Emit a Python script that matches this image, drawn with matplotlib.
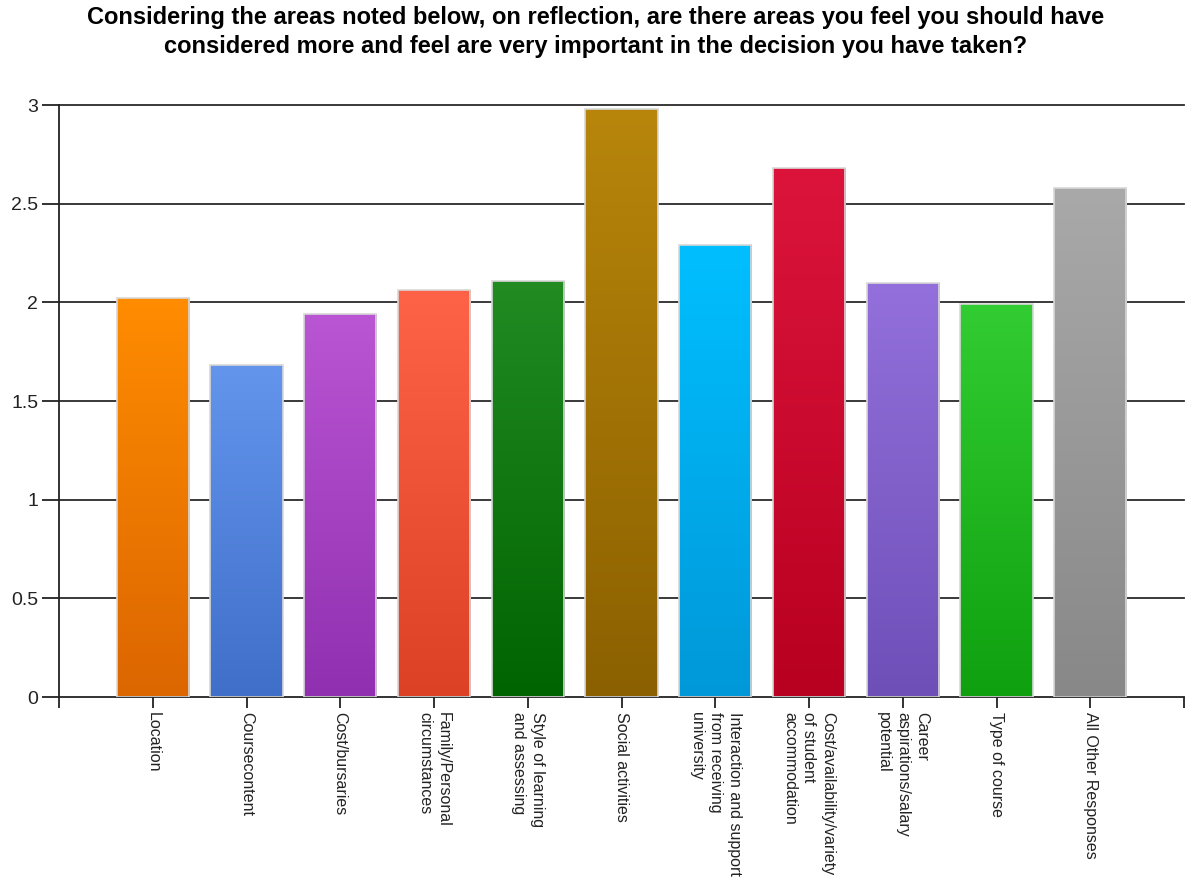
import matplotlib
matplotlib.use("Agg")
import matplotlib.pyplot as plt
import numpy as np
from matplotlib.colors import LinearSegmentedColormap

plt.rcParams['font.family'] = ['Liberation Sans', 'DejaVu Sans']

categories = [
    "Location",
    "Coursecontent",
    "Cost/bursaries",
    "Family/Personal\ncircumstances",
    "Style of learning\nand assessing",
    "Social activities",
    "Interaction and support\nfrom receiving\nuniversity",
    "Cost/availability/variety\nof student\naccommodation",
    "Career\naspirations/salary\npotential",
    "Type of course",
    "All Other Responses",
]
values = [2.02, 1.68, 1.94, 2.06, 2.11, 2.98, 2.29, 2.68, 2.10, 1.99, 2.58]
top_colors = ["#FF8C00", "#6495ED", "#BA55D3", "#FF6347", "#228B22", "#B8860B",
              "#00BFFF", "#DC143C", "#9370DB", "#32CD32", "#A9A9A9"]
bottom_colors = ["#DC6600", "#3F6FC8", "#9030B0", "#DC4025", "#006400", "#8B6000",
                 "#0098D8", "#B80020", "#6E4FB8", "#0FA00F", "#888888"]
yticks = [0, 0.5, 1, 1.5, 2, 2.5, 3]
ytick_labels = ["0", "0.5", "1", "1.5", "2", "2.5", "3"]
title = ("Considering the areas noted below, on reflection, are there areas you feel you should have\n"
         "considered more and feel are very important in the decision you have taken?")

W, H = 1192, 883
fig = plt.figure(figsize=(W / 100, H / 100), dpi=100)
ax = fig.add_axes([59 / W, 1 - 697 / H, (1184 - 59) / W, (697 - 105) / H])

n = len(categories)
x = np.arange(1, n + 1)
width = 0.77

ax.set_xlim(0, n + 1)
ax.set_ylim(0, 3)

for yt in yticks[1:]:
    ax.axhline(yt, color="#2a2a2a", lw=1.3, zorder=0, clip_on=False)

bars = ax.bar(x, values, width=width, color="none", edgecolor="#d8d8d8", lw=1.2, zorder=3)
grad = np.linspace(1, 0, 256).reshape(-1, 1)
for b, tc, bc in zip(bars, top_colors, bottom_colors):
    cmap = LinearSegmentedColormap.from_list("g", [bc, tc])
    x0 = b.get_x()
    h = b.get_height()
    im = ax.imshow(grad, cmap=cmap, vmin=0, vmax=1, aspect="auto",
                   extent=(x0, x0 + b.get_width(), 0, h), zorder=2, interpolation="bilinear")
    im.set_clip_path(b)
ax.set_xlim(0, n + 1)
ax.set_ylim(0, 3)

for s in ["top", "right"]:
    ax.spines[s].set_visible(False)
ax.spines["left"].set_color("#222222")
ax.spines["bottom"].set_color("#222222")
ax.spines["left"].set_linewidth(1.3)
ax.spines["bottom"].set_linewidth(1.3)

ax.set_yticks(yticks)
ax.set_yticklabels(ytick_labels, fontsize=14, color="#222222")
ax.tick_params(axis="y", length=12, width=1.3, color="#222222", pad=3)

ax.set_xticks(np.arange(0, n + 2))
ax.set_xticklabels([""] + categories + [""], rotation=-90, fontsize=11.5,
                   ha="center", va="top", multialignment="left", color="#222222",
                   linespacing=1.35)
ax.tick_params(axis="x", length=8, width=1.3, color="#222222", pad=3)

fig.text(0.5, 1 - 32 / H, title, ha="center", va="center", fontsize=17,
         fontweight="bold", linespacing=1.3)

fig.savefig("out.png", dpi=100)
